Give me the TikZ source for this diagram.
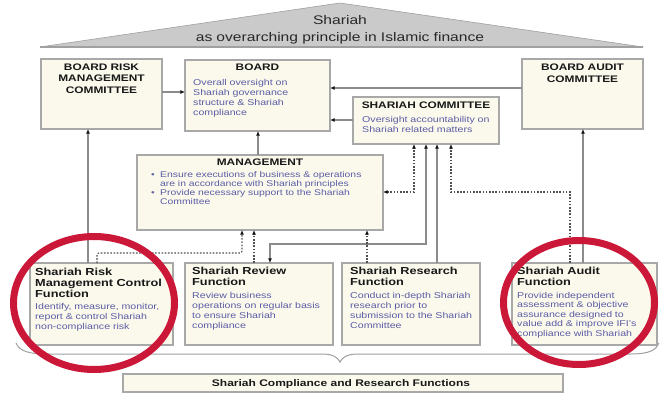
\documentclass[tikz,border=0pt]{standalone}
\usepackage{fontspec}
\setmainfont{Liberation Sans}[FakeStretch=1.25]
\usetikzlibrary{arrows.meta}

\definecolor{boxfill}{RGB}{250,249,236}
\definecolor{boxline}{RGB}{168,168,168}
\definecolor{roofgray}{RGB}{202,202,202}
\definecolor{roofedge}{RGB}{160,160,160}
\definecolor{bodyblue}{RGB}{92,92,165}
\definecolor{titleblack}{RGB}{25,25,25}
\definecolor{wire}{RGB}{140,140,140}
\definecolor{dotgray}{RGB}{80,80,80}
\definecolor{ring}{RGB}{204,24,56}
\definecolor{tipcol}{RGB}{20,20,20}
\definecolor{bracegray}{RGB}{160,160,160}

\begin{document}
\begin{tikzpicture}[x=1pt, y=-1pt,
  panel/.style={draw=boxline, fill=boxfill, line width=1.6pt, anchor=north west,
    inner sep=0pt, outer sep=0pt},
  capstitle/.style={font=\fontsize{9.5}{11.5}\selectfont\bfseries, text=titleblack,
    inner sep=0pt, anchor=base, align=center, text width=118pt},
  fntitle/.style={font=\fontsize{10.2}{11}\selectfont\bfseries, text=titleblack,
    inner sep=0pt, anchor=base west, align=left, text width=150pt},
  bodytxt/.style={font=\fontsize{8.5}{10}\selectfont, text=bodyblue,
    inner sep=0pt, anchor=base west, align=left, text width=150pt},
  bullettxt/.style={font=\fontsize{8.3}{9}\selectfont, text=bodyblue,
    inner sep=0pt, anchor=base west, align=left, text width=230pt},
  solidwire/.style={draw=wire, line width=1.6pt},
  dotwire/.style={draw=dotgray, line width=1.1pt, dash pattern=on 1.6pt off 1.6pt},
  arr/.style={-{Latex[length=4.6pt,width=4pt,color=tipcol]}},
  arrboth/.style={{Latex[length=4.6pt,width=4pt,color=tipcol]}-{Latex[length=4.6pt,width=4pt,color=tipcol]}},
  redring/.style={draw=ring, line width=7pt}
]
\useasboundingbox (0,0) rectangle (661,394);
\fill[white] (0,0) rectangle (661,394);

% roof: Shariah as overarching principle
\fill[roofgray] (340,3) -- (643,47) -- (40,47) -- cycle;
\draw[roofedge, line width=0.6pt] (340,3) -- (643,47) -- (40,47) -- cycle;
\draw[roofedge, line width=2.5pt] (40,47) -- (643,47);
\node[font=\fontsize{12.5}{17}\selectfont, text={rgb,255:red,40;green,40;blue,40},
  inner sep=0pt, anchor=base, align=center, text width=320pt] (roof) at (340,24.5)
  {Shariah\\as overarching principle in Islamic finance};

% panels
\node[panel, minimum width=121pt, minimum height=70pt] (brmc) at (41,59) {};
\node[panel, minimum width=145pt, minimum height=71pt] (board) at (185,60) {};
\node[panel, minimum width=146pt, minimum height=47pt] (sc) at (353,97) {};
\node[panel, minimum width=121pt, minimum height=70pt] (bac) at (522,59) {};
\node[panel, minimum width=246pt, minimum height=75pt] (mgmt) at (137,155) {};
\node[panel, minimum width=143pt, minimum height=82pt] (risk) at (30,263) {};
\node[panel, minimum width=148pt, minimum height=82pt] (review) at (185,263) {};
\node[panel, minimum width=138pt, minimum height=82pt] (research) at (342,263) {};
\node[panel, minimum width=145pt, minimum height=82pt] (audit) at (512,263) {};
\node[panel, minimum width=440pt, minimum height=18pt] (banner) at (123,374) {};

% brace under the function boxes
\draw[bracegray, line width=1pt] (16,343) .. controls (20,352) and (30,354) .. (50,354)
  -- (322,354) .. controls (334,354) and (338,358) .. (340,362)
  .. controls (342,358) and (346,354) .. (358,354)
  -- (630,354) .. controls (650,354) and (656,350) .. (659,343);

% routing columns and rows
\coordinate (colRiskUp) at (88,0);
\coordinate (colRiskDot) at (97,0);
\coordinate (colMgA) at (242,0);
\coordinate (colMgB) at (254,0);
\coordinate (colBoard) at (258,0);
\coordinate (colReview) at (270,0);
\coordinate (colMgC) at (367,0);
\coordinate (colScA) at (414,0);
\coordinate (colScB) at (426,0);
\coordinate (colScC) at (437,0);
\coordinate (colScD) at (451,0);
\coordinate (colAuditDot) at (570,0);
\coordinate (colAuditUp) at (583,0);
\coordinate (rowBac) at (0,88);
\coordinate (rowBrmc) at (0,92);
\coordinate (rowSc) at (0,120);
\coordinate (rowMid) at (0,192);
\coordinate (rowReview) at (0,244);
\coordinate (rowRisk) at (0,253);

% solid reporting lines
\draw[solidwire, arr] (brmc.east |- rowBrmc) -- (board.west |- rowBrmc);
\draw[solidwire, arr] (bac.west |- rowBac) -- (board.east |- rowBac);
\draw[solidwire, arr] (sc.west |- rowSc) -- (board.east |- rowSc);
\draw[solidwire, arr] (mgmt.north -| colBoard) -- (board.south -| colBoard);
\draw[solidwire, arr] (risk.north -| colRiskUp) -- (brmc.south -| colRiskUp);
\draw[solidwire, arr] (audit.north -| colAuditUp) -- (bac.south -| colAuditUp);
\draw[solidwire, arrboth] (review.north -| colReview) -- (colReview |- rowReview)
  -- (colScB |- rowReview) -- (sc.south -| colScB);
\draw[solidwire, arr] (research.north -| colScC) -- (sc.south -| colScC);

% dotted lines
\draw[dotwire, arrboth] (mgmt.east |- rowMid) -| (sc.south -| colScA);
\draw[dotwire, arr] (audit.north -| colAuditDot) -- (colAuditDot |- rowMid)
  -- (colScD |- rowMid) -- (sc.south -| colScD);
\draw[dotwire, arr, rounded corners=2pt] (risk.north -| colRiskDot) -- (colRiskDot |- rowRisk)
  -- (colMgA |- rowRisk) -- (mgmt.south -| colMgA);
\draw[dotwire, arr] (review.north -| colMgB) -- (mgmt.south -| colMgB);
\draw[dotwire, arr] (research.north -| colMgC) -- (mgmt.south -| colMgC);

% board level texts
\node[capstitle] (brmc-t) at (101.5,70) {BOARD RISK\\MANAGEMENT\\COMMITTEE};
\node[capstitle] (board-t) at (257.5,70.5) {BOARD};
\node[bodytxt] (board-b) at (193,85) {Overall oversight on\\Shariah governance\\structure \& Shariah\\compliance};
\node[capstitle, text width=140pt] (sc-t) at (426,108.5) {SHARIAH COMMITTEE};
\node[bodytxt] (sc-b) at (362,122.5) {Oversight accountability on\\Shariah related matters};
\node[capstitle] (bac-t) at (582.5,70.5) {BOARD AUDIT\\COMMITTEE};

% management texts
\node[capstitle] (mgmt-t) at (260,165.5) {MANAGEMENT};
\node[bullettxt, text width=10pt] (mgmt-d1) at (151,177.5) {•};
\node[bullettxt] (mgmt-b1) at (160,177.5) {Ensure executions of business \& operations\\are in accordance with Shariah principles};
\node[bullettxt, text width=10pt] (mgmt-d2) at (151,195.5) {•};
\node[bullettxt] (mgmt-b2) at (160,195.5) {Provide necessary support to the Shariah\\Committee};

% function texts
\node[fntitle] (risk-t) at (35,275) {Shariah Risk\\Management Control\\Function};
\node[bodytxt] (risk-b) at (35,309.5) {Identify, measure, monitor,\\report \& control Shariah\\non-compliance risk};
\node[fntitle] (review-t) at (192,274) {Shariah Review\\Function};
\node[bodytxt] (review-b) at (192,298.5) {Review business\\operations on regular basis\\to ensure Shariah\\compliance};
\node[fntitle] (research-t) at (350,274) {Shariah Research\\Function};
\node[bodytxt] (research-b) at (350,298.5) {Conduct in-depth Shariah\\research prior to\\submission to the Shariah\\Committee};
\node[fntitle] (audit-t) at (517,274) {Shariah Audit\\Function};
\node[bodytxt, font=\fontsize{8.5}{9.5}\selectfont] (audit-b) at (517,298) {Provide independent\\assessment \& objective\\assurance designed to\\value add \& improve IFI's\\compliance with Shariah};

\node[font=\fontsize{9.6}{11}\selectfont\bfseries, text=titleblack, inner sep=0pt,
  anchor=base] (banner-t) at (341,386.5) {Shariah Compliance and Research Functions};

% highlight rings
\draw[redring] (94,303) ellipse [x radius=80.5, y radius=66.5];
\draw[redring] (579,302.5) ellipse [x radius=75.5, y radius=62];
\end{tikzpicture}
\end{document}
